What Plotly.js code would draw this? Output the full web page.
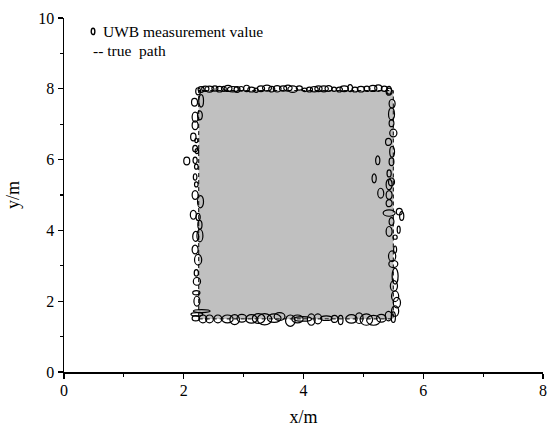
<!DOCTYPE html>
<html>
<head>
<meta charset="utf-8">
<script src="https://cdn.plot.ly/plotly-3.0.1.min.js"></script>
<style>html,body{margin:0;padding:0;background:#fff;}#chart{width:548px;height:430px;}</style>
</head>
<body>
<div id="chart"></div>
<script>
// True path (rectangle corners)
const pathX = [2.25, 5.5, 5.5, 2.25, 2.25];
const pathY = [1.5, 1.5, 7.95, 7.95, 1.5];

// UWB measurement ellipses: centre x, centre y, width (x units), height (y units)
// top edge
const topX = [2.24,2.29,2.36,2.43,2.52,2.60,2.67,2.74,2.82,2.89,2.96,3.05,3.13,3.21,3.29,3.39,3.47,3.56,3.66,3.74,3.82,3.93,4.02,4.10,4.18,4.25,4.34,4.42,4.51,4.60,4.68,4.78,4.86,4.96,5.06,5.16,5.25,5.35,5.43];
const topY = [7.93,7.98,8.00,7.99,8.01,7.99,8.00,8.01,7.99,7.98,8.00,8.01,7.98,7.96,8.00,8.02,7.99,8.00,8.01,8.02,7.99,8.02,7.97,7.98,7.99,8.00,8.00,8.01,7.99,7.98,8.00,8.02,7.98,7.99,8.00,8.01,8.02,8.00,7.96];
const topW = [0.08,0.10,0.12,0.15,0.10,0.12,0.08,0.13,0.18,0.10,0.08,0.10,0.12,0.07,0.12,0.15,0.10,0.13,0.12,0.14,0.16,0.10,0.08,0.10,0.13,0.12,0.15,0.12,0.08,0.10,0.14,0.08,0.10,0.12,0.10,0.13,0.12,0.10,0.08];
const topH = [0.20,0.16,0.15,0.17,0.15,0.16,0.14,0.17,0.15,0.16,0.13,0.18,0.14,0.12,0.16,0.17,0.16,0.18,0.15,0.17,0.18,0.12,0.10,0.14,0.15,0.16,0.17,0.16,0.12,0.14,0.16,0.20,0.14,0.16,0.15,0.17,0.18,0.15,0.22];
// left edge
const leftX = [2.18,2.29,2.19,2.27,2.19,2.16,2.21,2.19,2.22,2.05,2.19,2.21,2.19,2.21,2.19,2.28,2.16,2.24,2.27,2.20,2.27,2.19,2.24,2.21,2.22,2.21,2.22,2.30,2.22,2.20];
const leftY = [7.62,7.66,7.20,7.25,6.97,6.64,6.54,6.31,6.24,5.96,5.98,5.80,5.51,5.30,5.00,4.81,4.44,4.38,4.16,3.83,3.85,3.46,3.17,2.80,2.56,2.24,2.00,1.72,1.63,1.52];
const leftW = [0.10,0.08,0.10,0.08,0.10,0.09,0.05,0.08,0.06,0.10,0.07,0.06,0.06,0.06,0.10,0.10,0.10,0.07,0.07,0.10,0.10,0.10,0.12,0.07,0.12,0.12,0.10,0.28,0.20,0.12];
const leftH = [0.22,0.35,0.28,0.25,0.25,0.22,0.12,0.18,0.14,0.22,0.18,0.14,0.18,0.14,0.25,0.35,0.25,0.20,0.25,0.28,0.35,0.25,0.30,0.18,0.22,0.12,0.28,0.08,0.10,0.15];
// bottom edge
const botX = [2.32,2.43,2.57,2.73,2.85,2.97,3.13,3.25,3.35,3.51,3.60,3.78,3.90,3.99,4.13,4.24,4.38,4.52,4.62,4.80,4.93,5.05,5.17,5.30,5.42];
const botY = [1.50,1.50,1.50,1.50,1.48,1.52,1.50,1.51,1.49,1.52,1.57,1.45,1.50,1.50,1.48,1.50,1.52,1.50,1.47,1.50,1.52,1.48,1.46,1.52,1.58];
const botW = [0.13,0.13,0.13,0.19,0.16,0.16,0.19,0.21,0.24,0.23,0.18,0.16,0.19,0.29,0.13,0.13,0.19,0.11,0.08,0.19,0.13,0.21,0.23,0.16,0.11];
const botH = [0.22,0.22,0.22,0.22,0.28,0.22,0.24,0.28,0.32,0.24,0.22,0.32,0.22,0.13,0.32,0.28,0.13,0.20,0.26,0.24,0.30,0.32,0.28,0.22,0.27];
// right edge
const rightX = [5.43,5.48,5.47,5.47,5.50,5.42,5.48,5.24,5.47,5.18,5.43,5.47,5.43,5.29,5.43,5.43,5.43,5.60,5.64,5.47,5.43,5.59,5.53,5.53,5.48,5.50,5.53,5.51,5.53,5.56,5.53,5.50];
const rightY = [7.92,7.58,7.29,7.03,6.75,6.50,6.22,5.98,5.94,5.47,5.61,5.37,5.30,5.05,5.00,4.77,4.49,4.53,4.41,4.25,3.97,4.02,3.81,3.46,3.27,3.05,2.71,2.43,2.14,1.96,1.72,1.55];
const rightW = [0.10,0.10,0.10,0.08,0.12,0.10,0.08,0.07,0.08,0.07,0.07,0.10,0.10,0.10,0.10,0.10,0.20,0.10,0.07,0.08,0.10,0.05,0.07,0.05,0.12,0.15,0.10,0.12,0.12,0.12,0.12,0.07];
const rightH = [0.20,0.25,0.35,0.20,0.22,0.20,0.30,0.25,0.22,0.25,0.20,0.22,0.30,0.28,0.25,0.20,0.18,0.18,0.25,0.22,0.28,0.20,0.12,0.20,0.30,0.20,0.45,0.30,0.30,0.30,0.30,0.30];

const ex = [].concat(topX, leftX, botX, rightX);
const ey = [].concat(topY, leftY, botY, rightY);
const ew = [].concat(topW, leftW, botW, rightW);
const eh = [].concat(topH, leftH, botH, rightH);

const xTicks = [0, 2, 4, 6, 8];
const yTicks = [0, 2, 4, 6, 8, 10];

const FONT = '"Liberation Serif", "Times New Roman", serif';

const shapes = ex.map((x, i) => ({
  type: 'circle', xref: 'x', yref: 'y',
  x0: x - ew[i] / 2, x1: x + ew[i] / 2,
  y0: ey[i] - eh[i] / 2, y1: ey[i] + eh[i] / 2,
  fillcolor: 'rgba(0,0,0,0)',
  line: {color: '#000', width: 1.2}
}));
// legend glyph
shapes.push({type: 'circle', xref: 'x', yref: 'y', x0: 0.455, x1: 0.515, y0: 9.53, y1: 9.71,
  fillcolor: 'rgba(0,0,0,0)', line: {color: '#000', width: 1.4}});

const traces = [{
  x: pathX, y: pathY, type: 'scatter', mode: 'lines',
  fill: 'toself', fillcolor: '#c0c0c0',
  line: {color: '#000', width: 1, dash: '4px,3px'},
  hoverinfo: 'skip', showlegend: false
}];

const axisCommon = {
  showline: true, linecolor: '#000', linewidth: 1.5,
  ticks: 'outside', ticklen: 5, tickwidth: 1.2, tickcolor: '#000',
  showgrid: false, zeroline: false,
  tickfont: {family: FONT, size: 16, color: '#000'},
  minor: {ticks: 'outside', ticklen: 3, tickwidth: 1.2, tickcolor: '#000', dtick: 1, showgrid: false}
};

const layout = {
  width: 548, height: 430,
  margin: {l: 64, r: 5, t: 18, b: 58},
  paper_bgcolor: '#fff', plot_bgcolor: '#fff',
  showlegend: false,
  xaxis: Object.assign({}, axisCommon, {
    range: [0, 8], tickvals: xTicks, ticktext: xTicks.map(String),
    ticklabelstandoff: -2,
    title: {text: 'x/m', font: {family: FONT, size: 18, color: '#000'}, standoff: 12}
  }),
  yaxis: Object.assign({}, axisCommon, {
    range: [0, 10], tickvals: yTicks, ticktext: yTicks.map(String),
    title: {text: 'y/m', font: {family: FONT, size: 18, color: '#000'}, standoff: 14}
  }),
  shapes: shapes,
  annotations: [
    {xref: 'x', yref: 'y', x: 0.62, y: 9.62, xanchor: 'left', yanchor: 'middle', showarrow: false,
     text: 'UWB measurement value', font: {family: FONT, size: 15.5, color: '#000'}},
    {xref: 'x', yref: 'y', x: 0.45, y: 9.08, xanchor: 'left', yanchor: 'middle', showarrow: false,
     text: '-- true  path', font: {family: FONT, size: 15.5, color: '#000'}}
  ]
};

Plotly.newPlot('chart', traces, layout, {displayModeBar: false, staticPlot: true});
</script>
</body>
</html>
